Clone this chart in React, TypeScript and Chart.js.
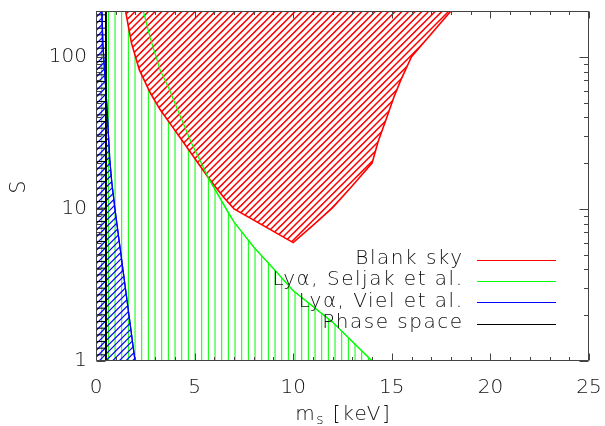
import { useEffect, useRef } from 'react';
import { Chart, registerables } from 'chart.js';

Chart.register(...registerables);

// ---- data ----
const blankSkyM = [1.5, 1.8, 2.2, 2.75, 3.25, 3.85, 4.35, 4.95, 5.7, 6.45, 7, 10, 11, 12, 13, 14, 14.3, 14.75, 15.1, 15.45, 16, 18];
const blankSkyS = [200, 123, 82, 58, 45, 35, 28.4, 22, 16, 12, 10, 6, 7.8, 10.2, 14.2, 20, 27.5, 40, 54, 70, 100, 200];

const seljakM = [0, 2.4, 2.75, 3.25, 3.67, 4.35, 4.85, 5.7, 6.63, 7, 8, 9, 10, 12, 14];
const seljakS = [200, 200, 133, 82, 63, 38.5, 27, 16, 9.85, 8.2, 5.6, 4.05, 2.9, 1.8, 1];

const vielM = [0, 0.3, 0.35, 0.55, 0.7, 0.8, 0.96, 1.98];
const vielS = [200, 200, 120, 48, 21, 15, 10, 1];

const phaseM = [0, 0.5, 0.5];
const phaseS = [200, 200, 1];

const xTickLabels = [0, 5, 10, 15, 20, 25];
const yTickLabels = [1, 10, 100];

const legendLabels = ['Blank sky', 'Ly\u03b1, Seljak et al.', 'Ly\u03b1, Viel et al.', 'Phase space'];
const legendColors = ['#ff0000', '#00ff00', '#0000ff', '#000000'];

const FONT = "'DejaVu Sans'";
const TEXT = '#111111';
const AXIS = '#444444';

function pts(xs: number[], ys: number[]) {
  return xs.map((x, i) => ({ x, y: ys[i] }));
}

function makePattern(kind: 'v' | 'h' | 'd', color: string, width: number, bg?: string): CanvasPattern | string {
  const c = document.createElement('canvas');
  c.width = 20;
  c.height = 20;
  const g = c.getContext('2d');
  if (!g) return color;
  if (bg) {
    g.fillStyle = bg;
    g.fillRect(0, 0, 20, 20);
  }
  g.strokeStyle = color;
  g.lineWidth = width;
  g.beginPath();
  const step = 20 / 3;
  if (kind === 'v') {
    for (let k = 0; k < 3; k++) {
      const x = 1.7 + k * step;
      g.moveTo(x, 0);
      g.lineTo(x, 20);
    }
  } else if (kind === 'h') {
    for (let k = 0; k < 3; k++) {
      const y = 1.5 + k * step;
      g.moveTo(0, y);
      g.lineTo(20, y);
    }
  } else {
    for (let k = 0; k <= 6; k++) {
      const cc = k * step;
      g.moveTo(-5, cc + 5);
      g.lineTo(cc + 5, -5);
    }
  }
  g.stroke();
  const p = g.createPattern(c, 'repeat');
  return p || color;
}

function zeroPad(s: any) {
  s.paddingTop = 0;
  s.paddingBottom = 0;
  s.paddingLeft = 0;
  s.paddingRight = 0;
}

const framePlugin = {
  id: 'idlFrame',
  afterDraw(chart: any) {
    const ctx: CanvasRenderingContext2D = chart.ctx;
    const { left, right, top, bottom } = chart.chartArea;
    const xs = chart.scales.x;
    const ys = chart.scales.y;
    ctx.save();
    ctx.strokeStyle = AXIS;
    ctx.lineWidth = 1;
    ctx.beginPath();
    const L = Math.round(left) + 0.5;
    const R = Math.round(right) - 0.5;
    const T = Math.round(top) + 0.5;
    const B = Math.round(bottom) - 0.5;
    ctx.moveTo(L, T);
    ctx.lineTo(R, T);
    ctx.lineTo(R, B);
    ctx.lineTo(L, B);
    ctx.closePath();
    // x ticks
    for (let v = 0; v <= 25; v++) {
      const px = Math.round(xs.getPixelForValue(v)) + 0.5;
      const len = v % 5 === 0 ? 7 : 3.5;
      ctx.moveTo(px, B);
      ctx.lineTo(px, B - len);
      ctx.moveTo(px, T);
      ctx.lineTo(px, T + len);
    }
    // y ticks
    const yvals: number[] = [];
    for (let d = 1; d <= 100; d *= 10) for (let m = 1; m <= 9; m++) yvals.push(m * d);
    yvals.push(200);
    yvals.forEach((v) => {
      if (v > 200) return;
      const py = Math.round(ys.getPixelForValue(v)) + 0.5;
      const major = yTickLabels.some((t) => Math.abs(t - v) < 1e-9);
      const len = major ? 9 : 4.5;
      ctx.moveTo(L, py);
      ctx.lineTo(L + len, py);
      ctx.moveTo(R, py);
      ctx.lineTo(R - len, py);
    });
    ctx.stroke();

    // legend
    const ls = 1.5;
    ctx.font = `200 20px ${FONT}`;
    (ctx as any).letterSpacing = `${ls}px`;
    ctx.textAlign = 'right';
    ctx.textBaseline = 'middle';
    legendLabels.forEach((lab, i) => {
      const y = 260 + i * 21.2;
      ctx.fillStyle = TEXT;
      ctx.fillText(lab, 462 + ls, y - 1);
      ctx.strokeStyle = legendColors[i];
      ctx.lineWidth = 1;
      ctx.beginPath();
      ctx.moveTo(477, Math.round(y) + 0.5);
      ctx.lineTo(556, Math.round(y) + 0.5);
      ctx.stroke();
    });

    // x title: m_s [keV]
    ctx.fillStyle = TEXT;
    ctx.textAlign = 'left';
    ctx.textBaseline = 'alphabetic';
    const big = `200 20px ${FONT}`;
    const small = `200 14px ${FONT}`;
    ctx.font = big;
    const wm = ctx.measureText('m').width;
    const wr = ctx.measureText(' [keV]').width;
    ctx.font = small;
    const ws = ctx.measureText('s').width;
    const cx = (left + right) / 2;
    let x0 = cx - (wm + ws + wr - ls) / 2;
    ctx.font = big;
    ctx.fillText('m', x0, 420);
    x0 += wm;
    ctx.font = small;
    ctx.fillText('s', x0, 424);
    x0 += ws;
    ctx.font = big;
    ctx.fillText(' [keV]', x0, 420);
    (ctx as any).letterSpacing = '0px';

    // y title
    ctx.save();
    ctx.translate(20, (top + bottom) / 2 + 1);
    ctx.rotate(-Math.PI / 2);
    ctx.textAlign = 'center';
    ctx.textBaseline = 'middle';
    ctx.font = `200 21px ${FONT}`;
    ctx.fillText('S', 0, 0);
    ctx.restore();
    ctx.restore();
  },
};

export default function App() {
  const ref = useRef<HTMLCanvasElement | null>(null);
  useEffect(() => {
    const canvas = ref.current;
    if (!canvas) return;
    const red = makePattern('d', '#ff0000', 1.5, '#ffffff');
    const green = makePattern('v', '#00ff00', 1);
    const blue = makePattern('d', '#0000ff', 1.2);
    const black = makePattern('h', '#000000', 1);
    const tickFont = { family: FONT, size: 20, weight: 200 as any };
    const chart = new Chart(canvas, {
      type: 'line',
      data: {
        datasets: [
          { label: 'Phase space line', data: pts(phaseM, phaseS), borderColor: '#000000', borderWidth: 1, fill: false, order: 0 },
          { label: 'Viel line', data: pts(vielM, vielS), borderColor: '#0000ff', borderWidth: 1.2, fill: false, order: 1 },
          { label: 'Seljak line', data: pts(seljakM, seljakS), borderColor: '#00ff00', borderWidth: 1.2, fill: false, order: 2 },
          { label: 'Blank sky', data: pts(blankSkyM, blankSkyS), borderColor: '#ff0000', borderWidth: 1.6, backgroundColor: red as any, fill: 'end', order: 3 },
          { label: 'Phase space', data: pts(phaseM, phaseS), borderColor: '#000000', borderWidth: 1, backgroundColor: black as any, fill: 'start', order: 4 },
          { label: 'Viel', data: pts(vielM, vielS), borderColor: '#0000ff', borderWidth: 1.2, backgroundColor: blue as any, fill: 'start', order: 5 },
          { label: 'Seljak', data: pts(seljakM, seljakS), borderColor: '#00ff00', borderWidth: 1.2, backgroundColor: green as any, fill: 'start', order: 6 },
        ] as any,
      },
      options: {
        responsive: false,
        animation: false,
        devicePixelRatio: 1,
        layout: { padding: { left: 0, top: 11, right: 16, bottom: 0 } },
        elements: { point: { radius: 0 }, line: { tension: 0 } },
        plugins: { legend: { display: false }, tooltip: { enabled: false } },
        scales: {
          x: {
            type: 'linear',
            min: 0,
            max: 25,
            grid: { display: false, drawTicks: false },
            border: { display: false },
            ticks: {
              stepSize: 5,
              padding: 15,
              color: TEXT,
              font: tickFont,
              autoSkip: false,
              maxRotation: 0,
              callback: (v: any) => (xTickLabels.includes(Number(v)) ? String(v) : null),
            },
            afterFit: (s: any) => {
              s.height = 65;
              zeroPad(s);
            },
          },
          y: {
            type: 'logarithmic',
            min: 1,
            max: 200,
            grid: { display: false, drawTicks: false },
            border: { display: false },
            ticks: {
              padding: 9,
              color: TEXT,
              font: tickFont,
              autoSkip: false,
              callback: (v: any) => {
                const n = Number(v);
                const hit = yTickLabels.find((t) => Math.abs(t - n) < 1e-6);
                return hit !== undefined ? String(hit) : null;
              },
            },
            afterFit: (s: any) => {
              s.width = 96;
              zeroPad(s);
            },
          },
        },
      } as any,
      plugins: [framePlugin],
    });
    return () => chart.destroy();
  }, []);
  return (
    <canvas
      ref={ref}
      width={605}
      height={426}
      style={{ position: 'fixed', left: 0, top: 0, width: 605, height: 426, background: '#ffffff' }}
    />
  );
}
